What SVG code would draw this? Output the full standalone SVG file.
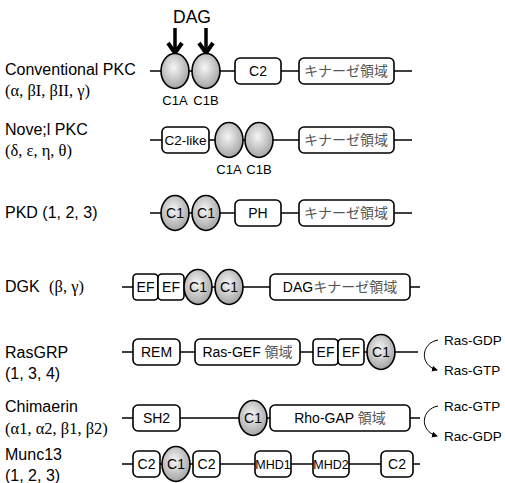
<svg xmlns="http://www.w3.org/2000/svg" width="505" height="483" viewBox="0 0 505 483">
<defs>
<radialGradient id="g" cx="0.45" cy="0.4" r="0.6">
<stop offset="0" stop-color="#f6f6f6"/>
<stop offset="1" stop-color="#a4a4a4"/>
</radialGradient>
<marker id="ah" markerWidth="6" markerHeight="6" refX="5" refY="3" orient="auto" markerUnits="userSpaceOnUse">
<path d="M0,0 L6,3 L0,6 Z" fill="#000"/>
</marker>
</defs>
<style>
text{font-family:"Liberation Sans",Arial,sans-serif;fill:#000}
.lab{font-size:16px}
.grk{font-family:"Liberation Serif","Times New Roman",serif;font-size:16.5px}
.bx{fill:#fff;stroke:#000;stroke-width:1.6}
.el{fill:url(#g);stroke:#000;stroke-width:1.6}
.ln{stroke:#000;stroke-width:1.6;fill:none}
.t{font-size:14px;text-anchor:middle}
.jp{font-size:14px;text-anchor:middle;fill:#555;font-family:"Liberation Sans","Noto Sans CJK JP",sans-serif}
.sub{font-size:13px;text-anchor:middle}
.sm{font-size:13.5px}
.cv{stroke:#000;stroke-width:1;fill:none}
</style>

<g id="connectors">
<line class="ln" x1="150" y1="71" x2="412" y2="71"/>
<line class="ln" x1="150" y1="140" x2="412" y2="140"/>
<line class="ln" x1="150" y1="213" x2="412" y2="213"/>
<line class="ln" x1="122" y1="287" x2="420" y2="287"/>
<line class="ln" x1="122" y1="352" x2="418" y2="352"/>
<line class="ln" x1="122" y1="418" x2="420" y2="418"/>
<line class="ln" x1="122" y1="464" x2="420" y2="464"/>
<path d="M175,28 V49" stroke="#000" stroke-width="3.5" fill="none"/>
<path d="M168,43 L175,53 L182,43" stroke="#000" stroke-width="4" fill="none"/>
<path d="M206,28 V49" stroke="#000" stroke-width="3.5" fill="none"/>
<path d="M199,43 L206,53 L213,43" stroke="#000" stroke-width="4" fill="none"/>
<path class="cv" d="M438,340 C421,343 419,365 437,370" marker-end="url(#ah)"/>
<path class="cv" d="M438,406 C421,409 419,431 437,436" marker-end="url(#ah)"/>
</g>

<text x="192" y="23" style="font-size:17.5px;text-anchor:middle">DAG</text>

<g id="cpkc">
<text class="lab" x="5" y="75">Conventional PKC</text>
<text class="grk" x="5" y="96">(α, βI, βII, γ)</text>
<ellipse class="el" cx="175" cy="71" rx="14" ry="17.5"/>
<ellipse class="el" cx="206" cy="71" rx="14" ry="17.5"/>
<rect class="bx" x="235" y="58" width="46" height="26" rx="5"/>
<text class="t" x="258" y="76">C2</text>
<rect class="bx" x="299" y="58" width="95" height="26" rx="5"/>
<text class="jp" x="346" y="76">キナーゼ領域</text>
<text class="sub" x="175" y="105">C1A</text>
<text class="sub" x="206" y="105">C1B</text>
</g>

<g id="npkc">
<text class="lab" x="5" y="135">Nove;l PKC</text>
<text class="grk" x="5" y="156">(δ, ε, η, θ)</text>
<rect class="bx" x="162" y="127" width="47" height="26" rx="5"/>
<text class="t" x="185.5" y="145" style="font-size:13.5px">C2-like</text>
<ellipse class="el" cx="229" cy="140" rx="14" ry="17.5"/>
<ellipse class="el" cx="259" cy="140" rx="14" ry="17.5"/>
<rect class="bx" x="299" y="127" width="95" height="26" rx="5"/>
<text class="jp" x="346" y="145">キナーゼ領域</text>
<text class="sub" x="229" y="174">C1A</text>
<text class="sub" x="259" y="174">C1B</text>
</g>

<g id="pkd">
<text class="lab" x="5" y="218">PKD (1, 2, 3)</text>
<ellipse class="el" cx="175" cy="213" rx="14" ry="17.5"/>
<text class="t" x="175" y="218">C1</text>
<ellipse class="el" cx="206" cy="213" rx="14" ry="17.5"/>
<text class="t" x="206" y="218">C1</text>
<rect class="bx" x="235" y="200" width="46" height="26" rx="5"/>
<text class="t" x="258" y="218">PH</text>
<rect class="bx" x="299" y="200" width="95" height="26" rx="5"/>
<text class="jp" x="346" y="218">キナーゼ領域</text>
</g>

<g id="dgk">
<text class="lab" x="5" y="292">DGK</text>
<text class="grk" x="49" y="292">(β, γ)</text>
<rect class="bx" x="133" y="274" width="25" height="26" rx="4"/>
<text class="t" x="145.5" y="292">EF</text>
<rect class="bx" x="158" y="274" width="26" height="26" rx="4"/>
<text class="t" x="171" y="292">EF</text>
<ellipse class="el" cx="198" cy="287" rx="14" ry="17.5"/>
<text class="t" x="198" y="292">C1</text>
<ellipse class="el" cx="229" cy="287" rx="14" ry="17.5"/>
<text class="t" x="229" y="292">C1</text>
<rect class="bx" x="270" y="274" width="140" height="26" rx="5"/>
<text class="jp" x="340" y="292"><tspan fill="#000">DAG</tspan>キナーゼ領域</text>
</g>

<g id="rasgrp">
<text class="lab" x="5" y="358">RasGRP</text>
<text class="lab" x="5" y="379">(1, 3, 4)</text>
<rect class="bx" x="133" y="339" width="47" height="26" rx="5"/>
<text class="t" x="156.5" y="357">REM</text>
<rect class="bx" x="195" y="339" width="105" height="26" rx="5"/>
<text class="t" x="247.5" y="357">Ras-GEF <tspan fill="#555" font-family="Noto Sans CJK JP">領域</tspan></text>
<rect class="bx" x="313" y="339" width="25" height="26" rx="4"/>
<text class="t" x="325.5" y="357">EF</text>
<rect class="bx" x="338" y="339" width="26" height="26" rx="4"/>
<text class="t" x="351" y="357">EF</text>
<ellipse class="el" cx="381" cy="352" rx="14" ry="17.5"/>
<text class="t" x="381" y="357">C1</text>
<text class="sm" x="444" y="345">Ras-GDP</text>
<text class="sm" x="444" y="375">Ras-GTP</text>
</g>

<g id="chimaerin">
<text class="lab" x="5" y="412">Chimaerin</text>
<text class="grk" x="5" y="434">(α1, α2, β1, β2)</text>
<rect class="bx" x="133" y="405" width="47" height="26" rx="5"/>
<text class="t" x="156.5" y="423">SH2</text>
<ellipse class="el" cx="253" cy="418" rx="14" ry="17.5"/>
<text class="t" x="253" y="423">C1</text>
<rect class="bx" x="270" y="405" width="140" height="26" rx="5"/>
<text class="t" x="340" y="423">Rho-GAP <tspan fill="#555" font-family="Noto Sans CJK JP">領域</tspan></text>
<text class="sm" x="444" y="411">Rac-GTP</text>
<text class="sm" x="444" y="441">Rac-GDP</text>
</g>

<g id="munc13">
<text class="lab" x="5" y="460">Munc13</text>
<text class="lab" x="5" y="481">(1, 2, 3)</text>
<rect class="bx" x="133" y="451" width="27" height="26" rx="5"/>
<text class="t" x="146.5" y="469">C2</text>
<ellipse class="el" cx="176" cy="464" rx="14" ry="17.5"/>
<text class="t" x="176" y="469">C1</text>
<rect class="bx" x="193" y="451" width="27" height="26" rx="5"/>
<text class="t" x="206.5" y="469">C2</text>
<rect class="bx" x="255" y="451" width="36" height="26" rx="5"/>
<text class="t" x="273" y="469" style="font-size:12.5px">MHD1</text>
<rect class="bx" x="313" y="451" width="36" height="26" rx="5"/>
<text class="t" x="331" y="469" style="font-size:12.5px">MHD2</text>
<rect class="bx" x="381" y="451" width="32" height="26" rx="5"/>
<text class="t" x="397" y="469">C2</text>
</g>
</svg>
